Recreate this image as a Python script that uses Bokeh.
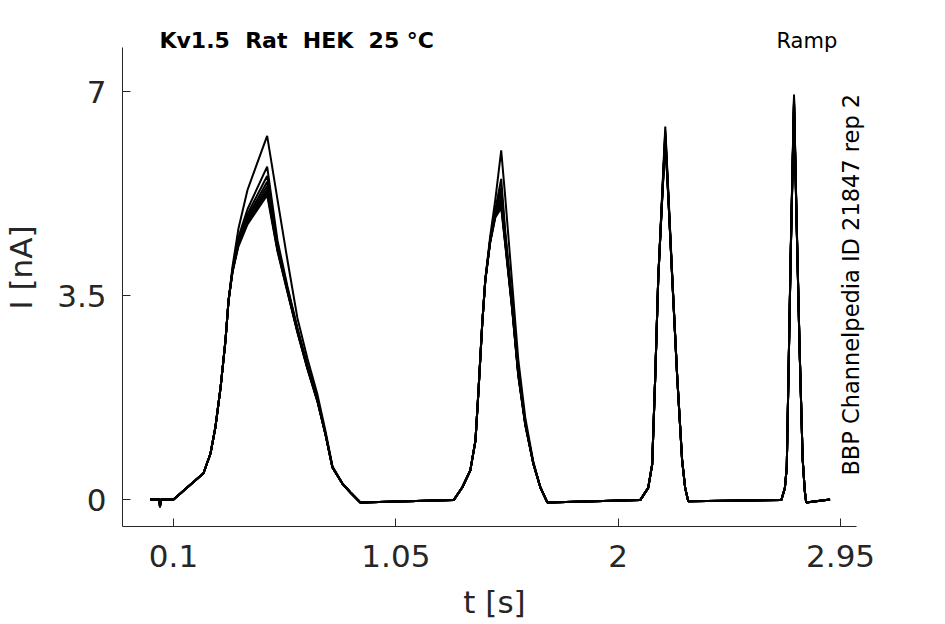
import math
from bokeh.plotting import figure
from bokeh.models import Range1d, FixedTicker, Label
from bokeh.embed import file_html
from bokeh.resources import INLINE

# ---- data ----
T = [0.0, 0.040, 0.042, 0.046, 0.10,
     0.228, 0.258, 0.279, 0.301, 0.322, 0.335, 0.352, 0.377, 0.416, 0.50,
     0.544, 0.587, 0.629, 0.672, 0.715, 0.749, 0.779, 0.822, 0.856, 0.898,
     1.297,
     1.334, 1.368, 1.390, 1.403, 1.419, 1.432, 1.453, 1.475, 1.50,
     1.517, 1.547, 1.573, 1.603, 1.637, 1.667, 1.697,
     2.094,
     2.128, 2.145, 2.158, 2.171, 2.188, 2.201, 2.214, 2.231, 2.252, 2.273, 2.286, 2.299,
     2.697,
     2.712, 2.720, 2.728, 2.737, 2.751, 2.762, 2.775, 2.788, 2.797, 2.803,
     2.905]

sweep_1 = [0, 0, -0.14, 0, 0,
           0.45, 0.79, 1.24, 1.92, 2.73, 3.41, 4.00, 4.64, 5.31, 6.24,
           5.15, 4.10, 3.12, 2.42, 1.80, 1.18, 0.57, 0.27, 0.12, -0.05,
           -0.01,
           0.21, 0.50, 1.01, 1.87, 3.02, 3.78, 4.52, 5.15, 5.99,
           5.20, 3.70, 2.40, 1.40, 0.65, 0.21, -0.05,
           -0.01,
           0.20, 0.60, 2.10, 3.80, 5.28, 6.40, 5.28, 3.82, 2.12, 0.68, 0.20, -0.03,
           -0.01,
           0.20, 0.55, 2.30, 4.30, 6.95, 4.85, 2.60, 0.70, 0.15, -0.05,
           0.0]
sweep_2 = [0, 0, -0.12, 0, 0,
           0.45, 0.79, 1.24, 1.92, 2.73, 3.41, 3.95, 4.50, 4.98, 5.71,
           4.45, 3.65, 2.95, 2.30, 1.72, 1.14, 0.56, 0.27, 0.12, -0.05,
           -0.01,
           0.21, 0.50, 1.01, 1.87, 3.02, 3.76, 4.47, 4.98, 5.50,
           4.62, 3.38, 2.20, 1.32, 0.63, 0.21, -0.05,
           -0.01,
           0.20, 0.60, 2.10, 3.80, 5.24, 6.33, 5.24, 3.80, 2.10, 0.67, 0.20, -0.03,
           -0.01,
           0.20, 0.55, 2.28, 4.26, 6.90, 4.82, 2.58, 0.70, 0.15, -0.05,
           0.0]
sweep_3 = [0, 0, -0.12, 0, 0,
           0.45, 0.79, 1.24, 1.92, 2.73, 3.41, 3.93, 4.45, 4.90, 5.55,
           4.38, 3.62, 2.93, 2.29, 1.71, 1.13, 0.55, 0.27, 0.12, -0.05,
           -0.01,
           0.21, 0.50, 1.01, 1.87, 3.02, 3.76, 4.46, 4.95, 5.35,
           4.55, 3.35, 2.18, 1.31, 0.62, 0.21, -0.05,
           -0.01,
           0.20, 0.60, 2.10, 3.80, 5.22, 6.29, 5.22, 3.79, 2.10, 0.67, 0.20, -0.03,
           -0.01,
           0.20, 0.55, 2.27, 4.25, 6.87, 4.80, 2.57, 0.69, 0.15, -0.05,
           0.0]
sweep_4 = [0, 0, -0.12, 0, 0,
           0.45, 0.79, 1.24, 1.92, 2.73, 3.41, 3.93, 4.42, 4.85, 5.45,
           4.34, 3.60, 2.91, 2.28, 1.70, 1.13, 0.55, 0.27, 0.12, -0.05,
           -0.01,
           0.21, 0.50, 1.01, 1.87, 3.02, 3.76, 4.45, 4.92, 5.25,
           4.50, 3.32, 2.17, 1.30, 0.62, 0.21, -0.05,
           -0.01,
           0.20, 0.60, 2.10, 3.80, 5.21, 6.26, 5.21, 3.78, 2.10, 0.67, 0.20, -0.03,
           -0.01,
           0.20, 0.55, 2.26, 4.24, 6.84, 4.79, 2.56, 0.69, 0.15, -0.05,
           0.0]
sweep_5 = [0, 0, -0.12, 0, 0,
           0.45, 0.79, 1.24, 1.92, 2.73, 3.41, 3.92, 4.40, 4.82, 5.38,
           4.32, 3.59, 2.90, 2.27, 1.70, 1.13, 0.55, 0.27, 0.12, -0.05,
           -0.01,
           0.21, 0.50, 1.01, 1.87, 3.02, 3.76, 4.44, 4.90, 5.15,
           4.45, 3.30, 2.16, 1.30, 0.62, 0.21, -0.05,
           -0.01,
           0.20, 0.60, 2.10, 3.80, 5.20, 6.23, 5.20, 3.78, 2.10, 0.67, 0.20, -0.03,
           -0.01,
           0.20, 0.55, 2.26, 4.23, 6.82, 4.78, 2.56, 0.69, 0.15, -0.05,
           0.0]
sweep_6 = [0, 0, -0.12, 0, 0,
           0.45, 0.79, 1.24, 1.92, 2.73, 3.41, 3.92, 4.38, 4.78, 5.32,
           4.30, 3.58, 2.89, 2.26, 1.69, 1.12, 0.55, 0.27, 0.12, -0.05,
           -0.01,
           0.21, 0.50, 1.01, 1.87, 3.02, 3.76, 4.43, 4.88, 5.10,
           4.42, 3.28, 2.14, 1.29, 0.62, 0.21, -0.05,
           -0.01,
           0.20, 0.60, 2.10, 3.80, 5.19, 6.20, 5.19, 3.77, 2.10, 0.67, 0.20, -0.03,
           -0.01,
           0.20, 0.55, 2.25, 4.22, 6.80, 4.77, 2.55, 0.69, 0.15, -0.05,
           0.0]
sweep_7 = [0, 0, -0.12, 0, 0,
           0.45, 0.79, 1.24, 1.92, 2.73, 3.41, 3.91, 4.36, 4.75, 5.27,
           4.28, 3.57, 2.88, 2.25, 1.68, 1.12, 0.55, 0.27, 0.12, -0.05,
           -0.01,
           0.21, 0.50, 1.01, 1.87, 3.02, 3.76, 4.42, 4.86, 5.05,
           4.40, 3.27, 2.13, 1.28, 0.62, 0.21, -0.05,
           -0.01,
           0.20, 0.60, 2.10, 3.80, 5.18, 6.18, 5.18, 3.77, 2.10, 0.67, 0.20, -0.03,
           -0.01,
           0.20, 0.55, 2.25, 4.21, 6.78, 4.76, 2.55, 0.69, 0.15, -0.05,
           0.0]
sweep_8 = [0, 0, -0.12, 0, 0,
           0.45, 0.79, 1.24, 1.92, 2.73, 3.41, 3.90, 4.34, 4.72, 5.22,
           4.26, 3.55, 2.87, 2.24, 1.68, 1.12, 0.55, 0.27, 0.12, -0.05,
           -0.01,
           0.21, 0.50, 1.01, 1.87, 3.02, 3.76, 4.41, 4.84, 5.00,
           4.38, 3.25, 2.12, 1.27, 0.62, 0.21, -0.05,
           -0.01,
           0.20, 0.60, 2.10, 3.80, 5.17, 6.15, 5.17, 3.76, 2.10, 0.67, 0.20, -0.03,
           -0.01,
           0.20, 0.55, 2.24, 4.20, 6.75, 4.75, 2.54, 0.69, 0.15, -0.05,
           0.0]
SWEEPS = [sweep_8, sweep_7, sweep_6, sweep_5, sweep_4, sweep_3, sweep_2, sweep_1]

X_TICKS = [0.1, 1.05, 2.0, 2.95]
X_TICK_LABELS = ["0.1", "1.05", "2", "2.95"]
Y_TICKS = [0.0, 3.5, 7.0]
Y_TICK_LABELS = ["0", "3.5", "7"]

# non-breaking spaces keep the double spacing of the original header in SVG
TITLE = "Kv1.5\u00a0 Rat\u00a0 HEK\u00a0 25 °C"
PROTOCOL = "Ramp"
SIDE_NOTE = "BBP Channelpedia ID 21847 rep 2"

# ---- figure ----
FONT = "DejaVu Sans"
AX = "#262626"
X_LO, X_HI = -0.118, 3.018      # visible extent of the x axis line
X_RIGHT = 3.0607                 # frame extends a little right to hold the side note
Y_LO, Y_HI = -0.463, 7.755      # visible extent of the y axis line
Y_TOP = 8.424                    # frame extends above the axis to hold the header texts

p = figure(width=930, height=623, output_backend="svg", toolbar_location=None,
           title=None,
           x_range=Range1d(X_LO, X_RIGHT), y_range=Range1d(Y_LO, Y_TOP),
           min_border_left=122, min_border_right=64,
           min_border_top=8, min_border_bottom=97)
p.outline_line_color = None
p.grid.visible = False
p.background_fill_color = "white"
p.border_fill_color = "white"

for s in SWEEPS:
    p.line(T, s, line_color="black", line_width=2)

p.xaxis.ticker = FixedTicker(ticks=X_TICKS)
p.xaxis.major_label_overrides = {t: l for t, l in zip(X_TICKS, X_TICK_LABELS)}
p.yaxis.ticker = FixedTicker(ticks=Y_TICKS)
p.yaxis.major_label_overrides = {t: l for t, l in zip(Y_TICKS, Y_TICK_LABELS)}
p.xaxis.bounds = (X_LO, X_HI)
p.yaxis.bounds = (Y_LO, Y_HI)
p.xaxis.axis_label = "t [s]"
p.yaxis.axis_label = "I [nA]"

for ax in (p.xaxis, p.yaxis):
    ax.axis_line_color = AX
    ax.axis_line_width = 1
    ax.major_tick_line_color = AX
    ax.major_tick_in = 8
    ax.major_tick_out = 0
    ax.minor_tick_line_color = None
    ax.major_label_text_font = FONT
    ax.major_label_text_font_size = "31px"
    ax.major_label_text_color = AX
    ax.axis_label_text_font = FONT
    ax.axis_label_text_font_size = "31px"
    ax.axis_label_text_font_style = "normal"
    ax.axis_label_text_color = AX

p.xaxis.major_label_standoff = 18
p.xaxis.axis_label_standoff = 14
p.yaxis.major_label_standoff = 16
p.yaxis.axis_label_standoff = 15

p.add_layout(Label(x=0.04, y=7.87, text=TITLE, text_font=FONT, text_font_size="22px",
                   text_font_style="bold", text_baseline="middle", text_align="left",
                   text_color="black"))
p.add_layout(Label(x=2.676, y=7.87, text=PROTOCOL, text_font=FONT, text_font_size="21px",
                   text_baseline="middle", text_align="left", text_color="black"))
p.add_layout(Label(x=2.993, y=0.41, text=SIDE_NOTE, angle=math.pi / 2, text_font=FONT,
                   text_font_size="22.5px", text_baseline="middle", text_align="left",
                   text_color="black"))

open("out.html", "w").write(file_html(p, INLINE))
